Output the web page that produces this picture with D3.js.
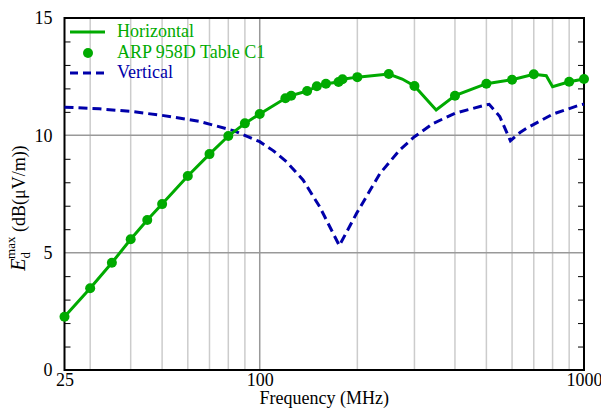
<!DOCTYPE html>
<html>
<head>
<meta charset="utf-8">
<script src="https://cdn.jsdelivr.net/npm/d3@7"></script>
<style>
  body { margin: 0; background: #fff; }
  text { font-family: "Liberation Serif", "DejaVu Serif", serif; }
</style>
</head>
<body>
<div class="root"></div>
<script>
// ARP 958D Table C1 markers (Horizontal)
var tableFreq = [25, 30, 35, 40, 45, 50, 60, 70, 80, 90, 100, 120, 125, 140, 150, 160, 175, 180, 200, 250, 300, 400, 500, 600, 700, 900, 1000];
var tableVal  = [2.27, 3.48, 4.57, 5.57, 6.39, 7.07, 8.27, 9.2, 9.97, 10.51, 10.91, 11.58, 11.69, 11.89, 12.09, 12.2, 12.27, 12.39, 12.48, 12.61, 12.1, 11.69, 12.2, 12.37, 12.6, 12.28, 12.4];

// extra corners of the horizontal curve
var horizExtraFreq = [275, 350, 765, 800];
var horizExtraVal  = [12.4, 11.08, 12.54, 12.07];

// Vertical polarisation curve
var vertFreq = [25, 32, 40, 50, 65, 83, 100, 110, 121, 136, 153, 176, 199, 235, 270, 300, 343, 400, 500, 510, 550, 593, 635, 665, 800, 970, 1000];
var vertVal  = [11.2, 11.13, 11.02, 10.85, 10.6, 10.2, 9.73, 9.35, 8.87, 8.1, 6.96, 5.3, 6.68, 8.38, 9.37, 9.94, 10.51, 10.94, 11.3, 11.32, 10.8, 9.77, 10.12, 10.3, 10.9, 11.29, 11.33];

var xTickVals = [25, 100, 1000];
var xGrid = [30, 40, 50, 60, 70, 80, 90, 200, 300, 400, 500, 600, 700, 800, 900];
var yTickVals = [0, 5, 10, 15];

var W = 601, H = 412;
var mLeft = 64.5, mRight = 584, mTop = 18, mBottom = 370;
var green = '#00aa00', blue = '#0000aa';

var svg = d3.select('.root').append('svg')
            .attr('width', W)
            .attr('height', H);

var x = d3.scaleLog().domain([25, 1000]).range([mLeft, mRight]);
var y = d3.scaleLinear().domain([0, 15]).range([mBottom, mTop]);

// grid
svg.append('g').selectAll('line')
   .data(xGrid).enter().append('line')
   .attr('x1', d => x(d)).attr('x2', d => x(d))
   .attr('y1', mTop).attr('y2', mBottom)
   .style('stroke', '#cccccc').style('stroke-width', 1.5);

svg.append('line')
   .attr('x1', x(100)).attr('x2', x(100))
   .attr('y1', mTop).attr('y2', mBottom)
   .style('stroke', '#999999').style('stroke-width', 1.5);

svg.append('g').selectAll('line')
   .data([5, 10]).enter().append('line')
   .attr('x1', mLeft).attr('x2', mRight)
   .attr('y1', d => y(d)).attr('y2', d => y(d))
   .style('stroke', '#999999').style('stroke-width', 1.5);

// minor y ticks, inside on both sides
var minor = d3.range(1, 15).filter(d => d % 5 != 0);
var yLeft = d3.axisRight(y).tickValues(minor).tickSize(6).tickFormat('');
var yRight = d3.axisLeft(y).tickValues(minor).tickSize(6).tickFormat('');
svg.append('g').attr('transform', 'translate(' + mLeft + ',0)').call(yLeft)
   .call(g => g.select('.domain').remove())
   .selectAll('line').style('stroke', '#000').style('stroke-width', 1);
svg.append('g').attr('transform', 'translate(' + mRight + ',0)').call(yRight)
   .call(g => g.select('.domain').remove())
   .selectAll('line').style('stroke', '#000').style('stroke-width', 1);

// axis labels
var yAx = svg.append('g').attr('transform', 'translate(' + mLeft + ',0)')
   .call(d3.axisLeft(y).tickValues(yTickVals).tickSize(0).tickPadding(12));
yAx.select('.domain').remove();
yAx.selectAll('text').style('font-size', '18px').style('font-family', '"Liberation Serif", serif').attr('fill', '#000');

var xAx = svg.append('g').attr('transform', 'translate(0,' + mBottom + ')')
   .call(d3.axisBottom(x).tickValues(xTickVals).tickSize(0).tickPadding(3).tickFormat(d3.format('d')));
xAx.select('.domain').remove();
xAx.selectAll('text').style('font-size', '18px').style('font-family', '"Liberation Serif", serif').attr('fill', '#000');

// frame
svg.append('rect')
   .attr('x', mLeft).attr('y', mTop)
   .attr('width', mRight - mLeft).attr('height', mBottom - mTop)
   .style('fill', 'none').style('stroke', '#000').style('stroke-width', 2);

// curves
var line = d3.line().x(d => x(d[0])).y(d => y(d[1]));

var vert = vertFreq.map((f, i) => [f, vertVal[i]]);
svg.append('path').datum(vert)
   .attr('d', line)
   .style('fill', 'none').style('stroke', blue)
   .style('stroke-width', 3).style('stroke-dasharray', '9,5');

var horiz = tableFreq.map((f, i) => [f, tableVal[i]])
   .concat(horizExtraFreq.map((f, i) => [f, horizExtraVal[i]]))
   .sort((a, b) => a[0] - b[0]);
svg.append('path').datum(horiz)
   .attr('d', line)
   .style('fill', 'none').style('stroke', green)
   .style('stroke-width', 3);

svg.append('g').selectAll('circle')
   .data(tableFreq).enter().append('circle')
   .attr('cx', d => x(d))
   .attr('cy', (d, i) => y(tableVal[i]))
   .attr('r', 5)
   .style('fill', green);

// legend
var lg = svg.append('g');
lg.append('line').attr('x1', 70).attr('x2', 105).attr('y1', 32).attr('y2', 32)
  .style('stroke', green).style('stroke-width', 3);
lg.append('circle').attr('cx', 88).attr('cy', 53).attr('r', 5).style('fill', green);
lg.append('line').attr('x1', 70).attr('x2', 104).attr('y1', 73).attr('y2', 73)
  .style('stroke', blue).style('stroke-width', 3).style('stroke-dasharray', '8,5');
lg.append('text').attr('x', 117).attr('y', 37).text('Horizontal')
  .style('font-size', '18px').attr('fill', green);
lg.append('text').attr('x', 117).attr('y', 58).text('ARP 958D Table C1')
  .style('font-size', '18px').attr('fill', green);
lg.append('text').attr('x', 117).attr('y', 78).text('Vertical')
  .style('font-size', '18px').attr('fill', blue);

// axis titles
svg.append('text')
   .attr('x', (mLeft + mRight) / 2).attr('y', 404)
   .attr('text-anchor', 'middle')
   .style('font-size', '18px')
   .text('Frequency (MHz)');

var yt = svg.append('text')
   .attr('transform', 'translate(25,' + ((mTop + mBottom) / 2 + 14) + ') rotate(-90)')
   .attr('text-anchor', 'middle')
   .style('font-size', '18px');
yt.append('tspan').style('font-style', 'italic').style('font-size', '20px').text('E');
yt.append('tspan').attr('dy', 5).style('font-size', '13px').text('d');
yt.append('tspan').attr('dx', -7).attr('dy', -15).style('font-size', '13px').text('max');
yt.append('tspan').attr('dy', 10).text(' (dB(\u03bcV/m))');
</script>
</body>
</html>
